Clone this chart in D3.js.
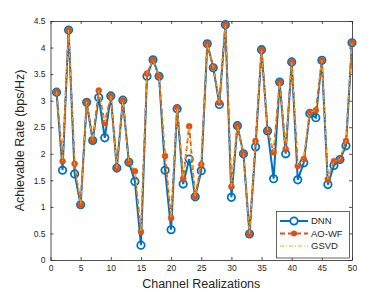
<!DOCTYPE html>
<html><head><meta charset="utf-8">
<script src="https://cdn.jsdelivr.net/npm/d3@7/dist/d3.min.js"></script>
<style>body{margin:0;background:#fff}svg{display:block}</style>
</head><body><svg id="c" width="390" height="293"></svg>
<script>
const realizations = d3.range(1, 51);
const dnn = [3.16,1.69,4.33,1.62,1.04,2.97,2.25,3.06,2.30,3.09,
             1.73,3.01,1.84,1.48,0.28,3.46,3.77,3.46,1.69,0.57,
             2.85,1.43,1.90,1.19,1.68,4.07,3.62,2.93,4.43,1.18,
             2.53,2.00,0.49,2.13,3.96,2.43,1.53,3.35,2.00,3.73,
             1.51,1.83,2.76,2.68,3.76,1.42,1.78,1.89,2.15,4.09];
const aowf = [3.17,1.86,4.33,1.81,1.04,2.98,2.25,3.19,2.58,3.09,
              1.73,3.01,1.84,1.67,0.53,3.51,3.77,3.46,1.96,0.79,
              2.87,1.53,2.52,1.19,1.80,4.07,3.63,2.96,4.43,1.38,
              2.53,2.00,0.49,2.24,3.96,2.43,2.03,3.35,2.09,3.73,
              1.77,1.90,2.78,2.82,3.76,1.52,1.86,1.89,2.24,4.09];
const gsvd = [3.17,1.86,4.33,1.81,1.04,2.98,2.25,3.19,2.58,3.09,
              1.73,3.01,1.84,1.67,0.53,3.51,3.77,3.46,1.96,0.79,
              2.87,1.53,2.52,1.19,1.80,4.07,3.63,2.96,4.43,1.38,
              2.53,2.00,0.49,2.24,3.96,2.43,2.03,3.35,2.09,3.73,
              1.77,1.90,2.78,2.82,3.76,1.52,1.86,1.89,2.24,4.09];
const xTicks = d3.range(0, 51, 5);
const yTicks = d3.range(0, 4.51, 0.5);
const seriesNames = ["DNN", "AO-WF", "GSVD"];

const svg = d3.select("#c");
const L = 50.5, R = 352, T = 21, B = 260;
const x = d3.scaleLinear().domain([0, 50]).range([L, R]);
const y = d3.scaleLinear().domain([0, 4.5]).range([B, T]);
const font = "Helvetica, Arial, 'Liberation Sans', sans-serif";
const axCol = "#262626";

// axes
const gx = svg.append("g").attr("transform", `translate(0,${B})`)
  .call(d3.axisBottom(x).tickValues(xTicks).tickSizeInner(-3).tickSizeOuter(0).tickPadding(5).tickFormat(d3.format("d")));
const gxt = svg.append("g").attr("transform", `translate(0,${T})`)
  .call(d3.axisTop(x).tickValues(xTicks).tickSizeInner(-3).tickSizeOuter(0).tickFormat(""));
const gy = svg.append("g").attr("transform", `translate(${L},0)`)
  .call(d3.axisLeft(y).tickValues(yTicks).tickSizeInner(-3).tickSizeOuter(0).tickPadding(5).tickFormat(d => d3.format("")(+d.toFixed(1))));
const gyr = svg.append("g").attr("transform", `translate(${R},0)`)
  .call(d3.axisRight(y).tickValues(yTicks).tickSizeInner(-3).tickSizeOuter(0).tickFormat(""));
[gx, gxt, gy, gyr].forEach(g => {
  g.select(".domain").attr("stroke", axCol).attr("stroke-width", 0.8);
  g.selectAll(".tick line").attr("stroke", axCol).attr("stroke-width", 0.8);
  g.selectAll("text").attr("fill", axCol).style("font-family", font).style("font-size", "8.5px");
});

// series
const pts = arr => realizations.map((r, i) => [r, arr[i]]);
const line = d3.line().x(d => x(d[0])).y(d => y(d[1]));
const cBlue = "#0072BD", cOr = "#D95319", cYel = "#EDB120";

svg.append("path").datum(pts(dnn)).attr("d", line).attr("fill", "none")
  .attr("stroke", cBlue).attr("stroke-width", 2);
svg.append("g").selectAll("circle").data(pts(dnn)).join("circle")
  .attr("cx", d => x(d[0])).attr("cy", d => y(d[1])).attr("r", 3.7)
  .attr("fill", "none").attr("stroke", cBlue).attr("stroke-width", 1.8);

svg.append("path").datum(pts(aowf)).attr("d", line).attr("fill", "none")
  .attr("stroke", cOr).attr("stroke-width", 1.8).attr("stroke-dasharray", "5,3");
svg.append("g").selectAll("circle").data(pts(aowf)).join("circle")
  .attr("cx", d => x(d[0])).attr("cy", d => y(d[1])).attr("r", 3)
  .attr("fill", cOr).attr("stroke", cOr).attr("stroke-width", 0.5);

svg.append("path").datum(pts(gsvd)).attr("d", line).attr("fill", "none")
  .attr("stroke", cYel).attr("stroke-width", 1).attr("stroke-dasharray", "4,2,1,2");

// labels
svg.append("text").attr("x", (L + R) / 2).attr("y", 288).attr("text-anchor", "middle")
  .attr("fill", axCol).style("font-family", font).style("font-size", "12.5px").text("Channel Realizations");
svg.append("text").attr("transform", `translate(24,${(T + B) / 2}) rotate(-90)`).attr("text-anchor", "middle")
  .attr("fill", axCol).style("font-family", font).style("font-size", "12.5px").text("Achievable Rate (bps/Hz)");

// legend
const lg = svg.append("g");
lg.append("rect").attr("x", 276.5).attr("y", 211.5).attr("width", 73).attr("height", 46.5)
  .attr("fill", "#fff").attr("stroke", axCol).attr("stroke-width", 0.7);
const ly = [221, 233.5, 246];
lg.append("line").attr("x1", 280).attr("x2", 308).attr("y1", ly[0]).attr("y2", ly[0]).attr("stroke", cBlue).attr("stroke-width", 2);
lg.append("circle").attr("cx", 294).attr("cy", ly[0]).attr("r", 3.7).attr("fill", "#fff").attr("stroke", cBlue).attr("stroke-width", 1.8);
lg.append("line").attr("x1", 280).attr("x2", 308).attr("y1", ly[1]).attr("y2", ly[1]).attr("stroke", cOr).attr("stroke-width", 1.8).attr("stroke-dasharray", "5,3");
lg.append("circle").attr("cx", 294).attr("cy", ly[1]).attr("r", 3).attr("fill", cOr);
lg.append("line").attr("x1", 280).attr("x2", 308).attr("y1", ly[2]).attr("y2", ly[2]).attr("stroke", cYel).attr("stroke-width", 1).attr("stroke-dasharray", "4,2,1,2");
seriesNames.forEach((n, i) => {
  lg.append("text").attr("x", 311).attr("y", ly[i] + 3.3).attr("fill", axCol)
    .style("font-family", font).style("font-size", "9.5px").text(n);
});
</script></body></html>
